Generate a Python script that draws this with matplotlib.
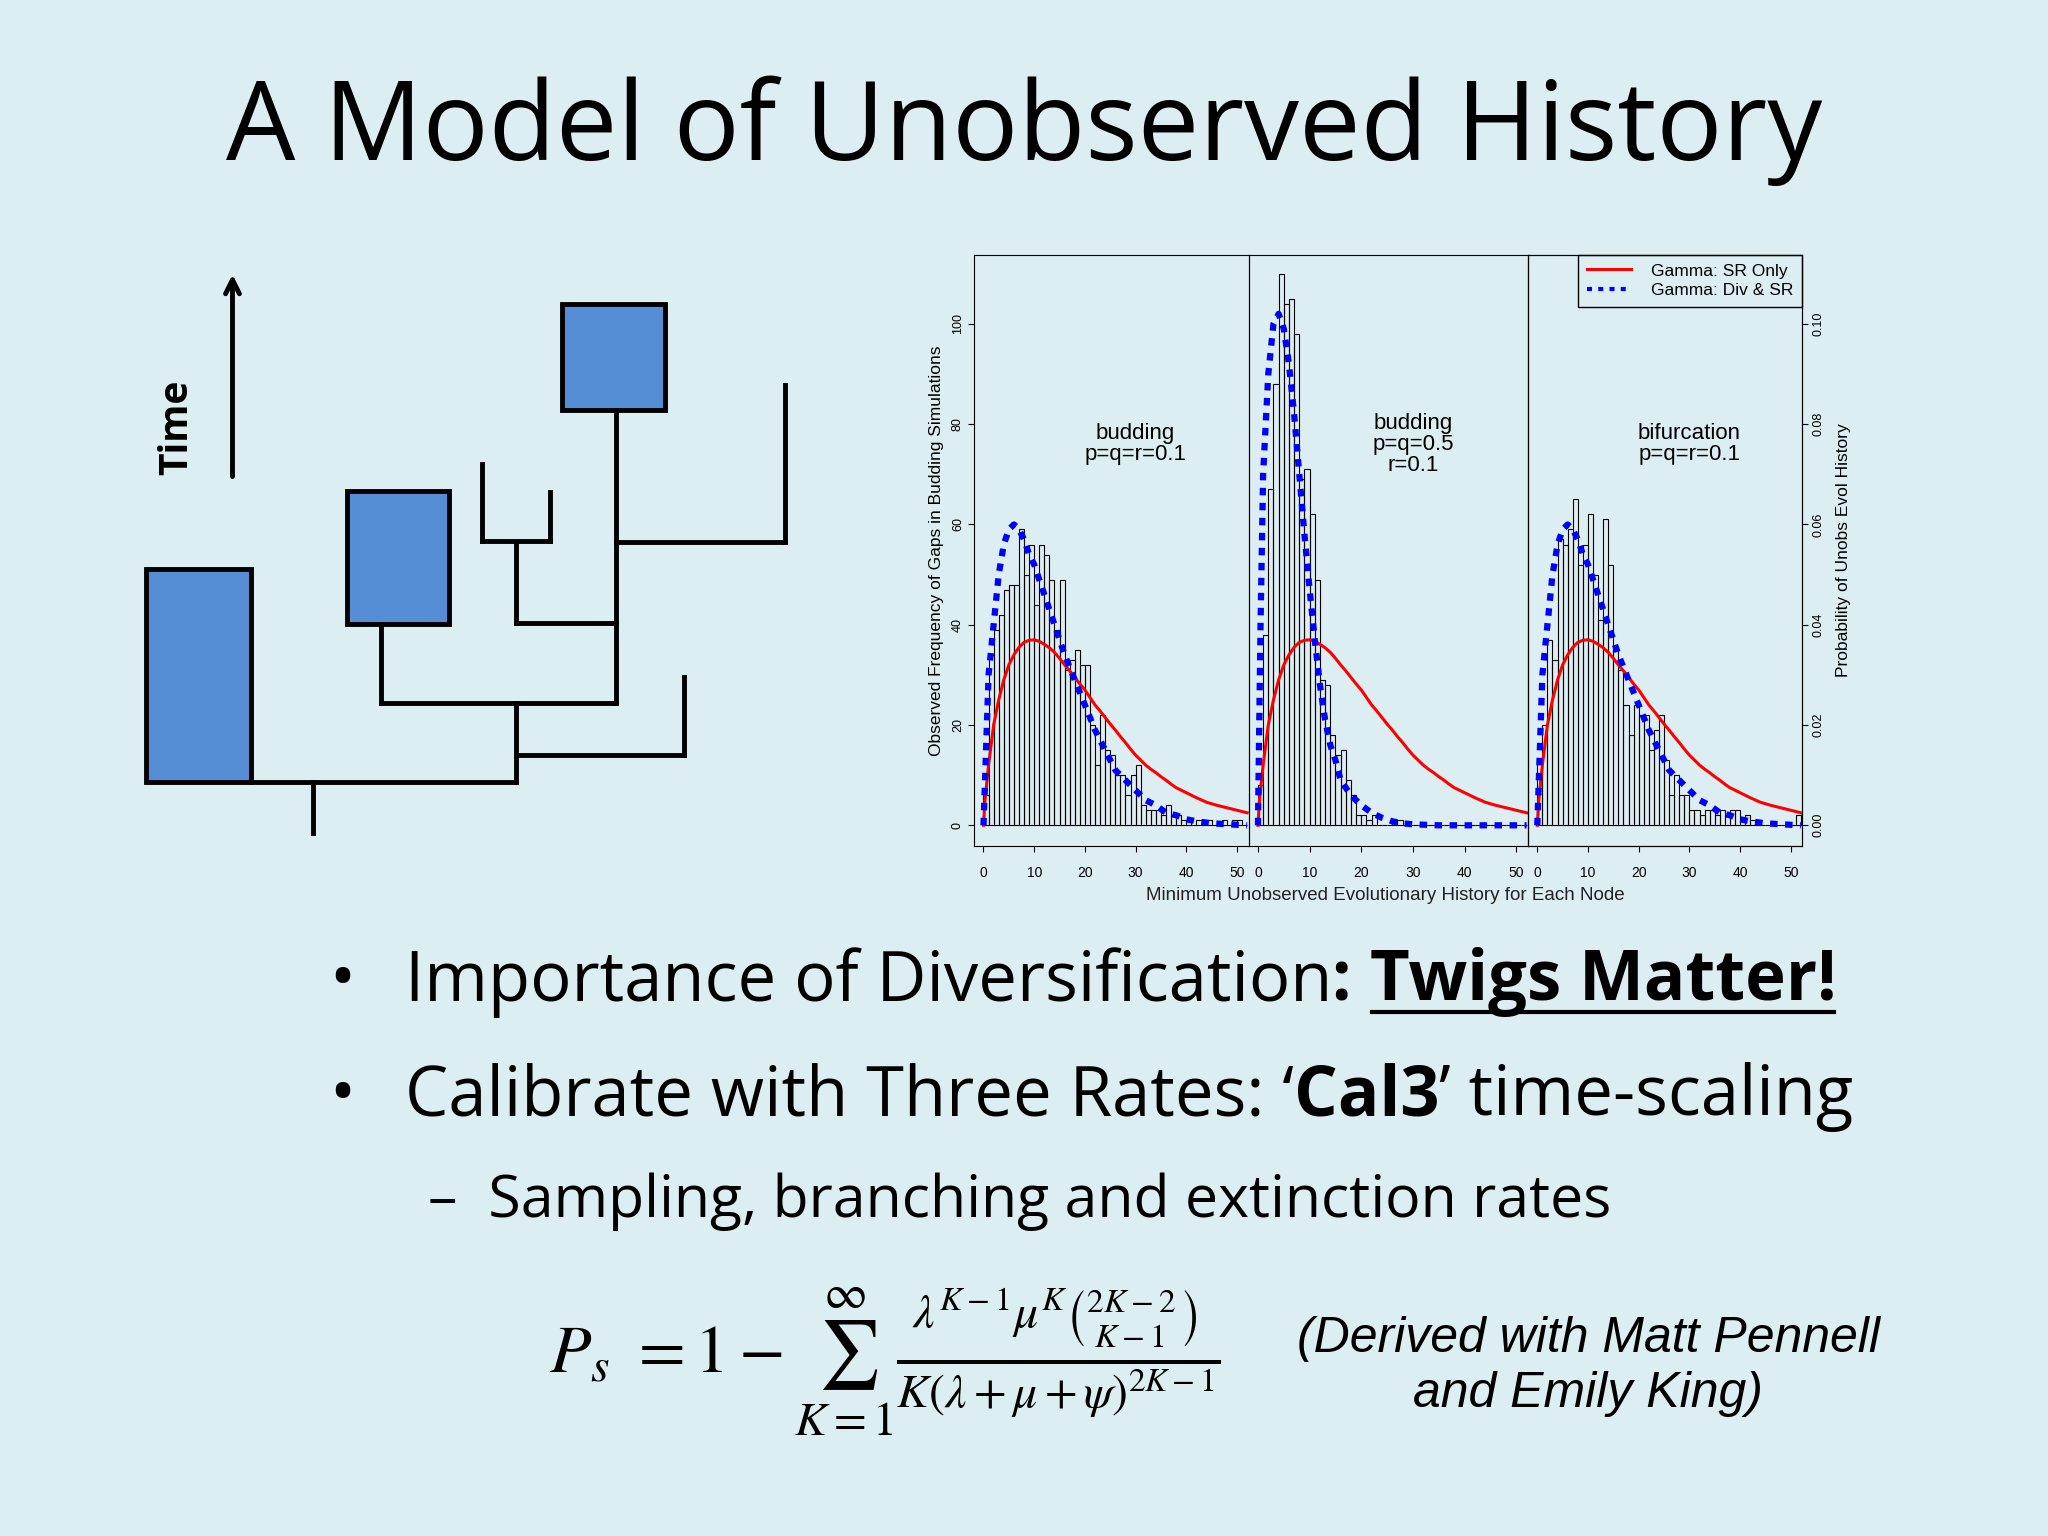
import matplotlib
matplotlib.use("Agg")
import matplotlib.pyplot as plt
import numpy as np

BG = "#DDEEF2"
BLUE = "#558ED5"

counts1 = [6,34,39,42,47,48,48,59,50,56,44,56,54,49,39,49,31,33,35,32,32,20,12,22,15,14,10,10,6,10,12,4,3,3,3,2,4,2,2,1,1,0,1,1,1,0,0,1,0,1,1,0]
counts2 = [8,38,67,88,110,104,105,98,69,71,62,49,29,28,18,14,15,9,6,2,2,1,2,0,0,0,1,1,0,0,0,0,0,0,0,0,0,0,0,0,0,0,0,0,0,0,0,0,0,0,0,0]
counts3 = [13,20,37,33,57,56,59,65,52,56,62,50,41,61,52,35,31,24,18,24,22,22,15,19,22,13,6,10,6,6,3,3,2,3,3,2,3,2,3,3,1,2,1,1,0,0,0,0,0,0,0,2]

red_x = [0,0.3,1,2,3,4,5,6,7,8,9,10,11,12,13,14,15,16,17,18,19,20,21,22,23,24,25,26,27,28,29,30,31,32,33,34,35,36,37,38,39,40,42,44,46,48,50,52]
red_y = [0,5,12,20,25,29,32,34,35.5,36.5,36.9,37,36.7,36.1,35.4,34.5,33.3,32,30.8,29.5,28.2,27,25.5,24,22.8,21.5,20.2,19,17.7,16.5,15.2,14,13,12,11.2,10.5,9.7,9,8.2,7.5,7,6.5,5.5,4.6,4,3.5,3,2.5]
blue1_x = [0,0.5,1,2,3,4,5,6,7,8,9,10,12,14,16,18,20,22,24,26,28,30,32,34,36,38,40,42,45,50,52]
blue1_y = [0,15,30,40,50,56,59,60,59,57,54,52,46,40,34,29,24,19,15,11,9,7,5,4,2.5,2,1.2,0.8,0.4,0.1,0]
blue2_x = [0,0.5,1,2,3,4,5,6,7,8,9,10,11,12,13,14,15,16,18,20,22,24,26,28,30,35,52]
blue2_y = [0,40,70,90,100,102,99,92,82,70,58,47,37,28,21,16,13,9,6,4,2.5,1.5,0.8,0.4,0.2,0,0]
blue3_x = blue1_x
blue3_y = blue1_y

panel_labels = ["budding\np=q=r=0.1", "budding\np=q=0.5\nr=0.1", "bifurcation\np=q=r=0.1"]
yticks_left = [0, 20, 40, 60, 80, 100]
yticks_right = [0.00, 0.02, 0.04, 0.06, 0.08, 0.10]
xticks = [0, 10, 20, 30, 40, 50]

W, H = 1568, 1176
fig = plt.figure(figsize=(20.48, 15.36), dpi=100, facecolor=BG)

ov = fig.add_axes([0, 0, 1, 1], zorder=0)
ov.set_xlim(0, W); ov.set_ylim(H, 0); ov.axis("off")
ov.patch.set_alpha(0)

def fx(x): return x / W
def fy(y): return 1 - y / H

ov.text(784, 100, "A Model of Unobserved History", fontsize=79, family="Open Sans",
        ha="center", va="center")

lw = 3.5
for (x0, y0, x1, y1) in [(112, 436, 192, 599), (266, 376, 344, 478), (430, 233, 509, 314)]:
    ov.add_patch(plt.Rectangle((x0, y0), x1 - x0, y1 - y0, facecolor=BLUE, edgecolor="black", lw=lw))
segs = [((192, 599), (395, 599)), ((240, 599), (240, 638)), ((395, 538), (395, 599)),
        ((395, 578), (524, 578)), ((524, 518), (524, 578)), ((292, 538), (472, 538)),
        ((292, 478), (292, 538)), ((472, 314), (472, 538)), ((395, 477), (472, 477)),
        ((395, 416), (395, 477)), ((369, 414), (421, 414)), ((369, 355), (369, 414)),
        ((421, 377), (421, 414)), ((472, 415), (601, 415)), ((601, 295), (601, 415))]
for (a, b) in segs:
    ov.plot([a[0], b[0]], [a[1], b[1]], color="black", lw=lw, solid_capstyle="projecting")
ov.annotate("", xy=(178, 208), xytext=(178, 367),
            arrowprops=dict(arrowstyle="->,head_width=0.5,head_length=1.0", lw=3.5, color="black"))
ov.text(135, 327, "Time", rotation=90, fontsize=28, fontweight="bold", family="Open Sans",
        ha="center", va="center")

lefts = [746, 956, 1170]
rights = [956, 1170, 1380]
top, bot = 195, 648
allcounts = [counts1, counts2, counts3]
blues = [(blue1_x, blue1_y), (blue2_x, blue2_y), (blue3_x, blue3_y)]
axes = []
for i in range(3):
    ax = fig.add_axes([fx(lefts[i]), fy(bot), (rights[i] - lefts[i]) / W, (bot - top) / H], zorder=2)
    ax.patch.set_alpha(0)
    edges = np.arange(len(allcounts[i]))
    ax.bar(edges, allcounts[i], width=1, align="edge", fill=False, edgecolor="black", lw=0.8)
    ax.plot(red_x, red_y, color="red", lw=2.2)
    ax.plot(blues[i][0], blues[i][1], color="blue", lw=4.5, ls=(0, (1.2, 1.2)))
    ax.set_xlim(-1.8, 52.3)
    ax.set_ylim(-4.2, 113.8)
    ax.set_xticks(xticks)
    ax.set_xticklabels([str(t) for t in xticks], fontsize=10, family="Liberation Sans")
    ax.tick_params(axis="x", length=4, pad=10)
    if i == 0:
        ax.set_yticks(yticks_left)
        ax.set_yticklabels([str(t) for t in yticks_left], fontsize=9, rotation=90,
                           va="center", family="Liberation Sans")
        ax.tick_params(axis="y", length=4)
        ax.set_ylabel("Observed Frequency of Gaps in Budding Simulations", fontsize=12.5,
                      family="Liberation Sans", labelpad=6)
    else:
        ax.set_yticks([])
    ax.text(30, 76, panel_labels[i], ha="center", va="center", fontsize=16,
            family="Liberation Sans", linespacing=1.0)
    axes.append(ax)

ax3 = axes[2]
axr = ax3.twinx()
axr.set_ylim(-0.0042, 0.1138)
axr.set_yticks(yticks_right)
axr.set_yticklabels(["%.2f" % t for t in yticks_right], fontsize=9, rotation=90, va="center",
                    family="Liberation Sans")
axr.tick_params(axis="y", length=4)
axr.set_ylabel("Probability of Unobs Evol History", fontsize=12.5, family="Liberation Sans", labelpad=8)
from matplotlib.lines import Line2D
handles = [Line2D([], [], color="red", lw=2.2), Line2D([], [], color="blue", lw=3, ls=(0, (1.2, 1.5)))]
leg = ax3.legend(handles, ["Gamma: SR Only", "Gamma: Div & SR"], loc="upper right",
                 borderaxespad=0, fancybox=False, framealpha=1, facecolor="none", edgecolor="black",
                 prop=dict(family="Liberation Sans", size=12.5), handlelength=2.5,
                 labelspacing=0.25, borderpad=0.5, handletextpad=1.2)
leg.get_frame().set_linewidth(1.0)

ov.text(1061, 686, "Minimum Unobserved Evolutionary History for Each Node", ha="center",
        va="center", fontsize=13.5, family="Liberation Sans", color="#222222")

fig.canvas.draw()
renderer = fig.canvas.get_renderer()

def runs(x, y, parts, size):
    cur = x
    for txt, weight, underline in parts:
        t = ov.text(cur, y, txt, fontsize=size, fontweight=weight, family="Open Sans",
                    ha="left", va="center")
        wpx = t.get_window_extent(renderer).width
        wd = wpx * W / 2048
        if underline:
            ov.plot([cur + 2, cur + wd - 2], [y + 23, y + 23], color="black", lw=3)
        cur += wd

ov.text(262, 752, "•", fontsize=50, family="Open Sans", ha="center", va="center")
runs(310, 752, [("Importance of Diversification", "normal", False), (": ", "bold", False),
                ("Twigs Matter!", "bold", True)], 49.5)
ov.text(262, 840, "•", fontsize=50, family="Open Sans", ha="center", va="center")
runs(310, 840, [("Calibrate with Three Rates: \u2018", "normal", False), ("Cal3", "bold", False),
                ("\u2019 time-scaling", "normal", False)], 49.5)
runs(328, 920, [("\u2013  Sampling, branching and extinction rates", "normal", False)], 42.5)

plt.rcParams["mathtext.fontset"] = "stix"
ov.text(677, 1043,
        r"$P_s\ =1-\sum_{K=1}^{\infty}\frac{\lambda^{K-1}\mu^{K}\binom{2K-2}{K-1}}{K(\lambda+\mu+\psi)^{2K-1}}$",
        fontsize=49, ha="center", va="center")
ov.text(1216, 1046, "(Derived with Matt Pennell\nand Emily King)", fontsize=36, style="italic",
        family="Liberation Sans", ha="center", va="center", linespacing=1.25)

fig.savefig("out.png", dpi=100, facecolor=BG)
